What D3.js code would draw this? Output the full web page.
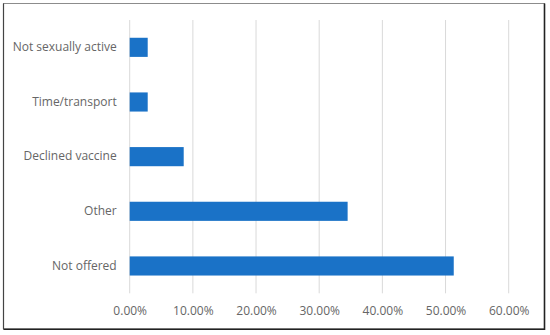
<!DOCTYPE html>
<html>
<head>
<meta charset="utf-8">
<script src="https://cdn.jsdelivr.net/npm/d3@7"></script>
<style>
  body { margin: 0; background: #fff; }
  text { font-family: "Open Sans", sans-serif; }
</style>
</head>
<body>
<div id="main"></div>
<script>
// ---------------- data -----------------//
let categories = ["Not sexually active", "Time/transport", "Declined vaccine", "Other", "Not offered"];
let values = [2.85, 2.85, 8.55, 34.5, 51.3];   // percent
let ticks = [0, 10, 20, 30, 40, 50, 60];

// ---------------- layout -----------------//
let width = 550;
let height = 335;
let plotLeft = 129.7, plotRight = 508.7, plotTop = 20, plotBottom = 293.3;

let svg = d3.select("#main")
  .append("svg")
  .attr("width", width)
  .attr("height", height);

// frame
svg.append("rect")
  .attr("x", 3.5).attr("y", 3.5)
  .attr("width", 541).attr("height", 325.5)
  .attr("fill", "#fff")
  .attr("stroke", "#8c8c8c")
  .attr("stroke-width", 1);
svg.append("path")
  .attr("d", "M544.5,3.5 V329.2 H3.5")
  .attr("fill", "none")
  .attr("stroke", "#222")
  .attr("stroke-width", 1.6);
svg.append("line")
  .attr("x1", 3.5).attr("x2", 3.5).attr("y1", 3.5).attr("y2", 329)
  .attr("stroke", "#444").attr("stroke-width", 1.2);

// scales
let x = d3.scaleLinear().domain([0, 60]).range([plotLeft, plotRight]);
let y = d3.scaleBand()
  .domain(categories)
  .range([plotTop, plotBottom])
  .paddingInner(0.65)
  .paddingOuter(0.325);

// gridlines
svg.append("g")
  .selectAll("line")
  .data(ticks)
  .join("line")
  .attr("x1", d => x(d)).attr("x2", d => x(d))
  .attr("y1", plotTop).attr("y2", plotBottom)
  .attr("stroke", "#d9d9d9")
  .attr("stroke-width", 1);

// bars
svg.append("g")
  .selectAll("rect")
  .data(categories)
  .join("rect")
  .attr("x", x(0))
  .attr("y", d => y(d))
  .attr("width", (d, i) => x(values[i]) - x(0))
  .attr("height", y.bandwidth())
  .attr("fill", "#1a72c7");

// x axis labels
let xAxis = d3.axisBottom(x)
  .tickValues(ticks)
  .tickSize(0)
  .tickPadding(0)
  .tickFormat(d => d.toFixed(2) + "%");
let gx = svg.append("g")
  .attr("transform", `translate(0, ${plotBottom + 13})`)
  .call(xAxis);
gx.select(".domain").remove();
gx.selectAll("text")
  .attr("font-family", "Open Sans, sans-serif")
  .attr("font-size", 12)
  .attr("fill", "#666");

// y axis labels
let yAxis = d3.axisLeft(y).tickSize(0).tickPadding(13);
let gy = svg.append("g")
  .attr("transform", `translate(${plotLeft}, 0)`)
  .call(yAxis);
gy.select(".domain").remove();
gy.selectAll("text")
  .attr("font-family", "Open Sans, sans-serif")
  .attr("font-size", 12)
  .attr("fill", "#666");
</script>
</body>
</html>
